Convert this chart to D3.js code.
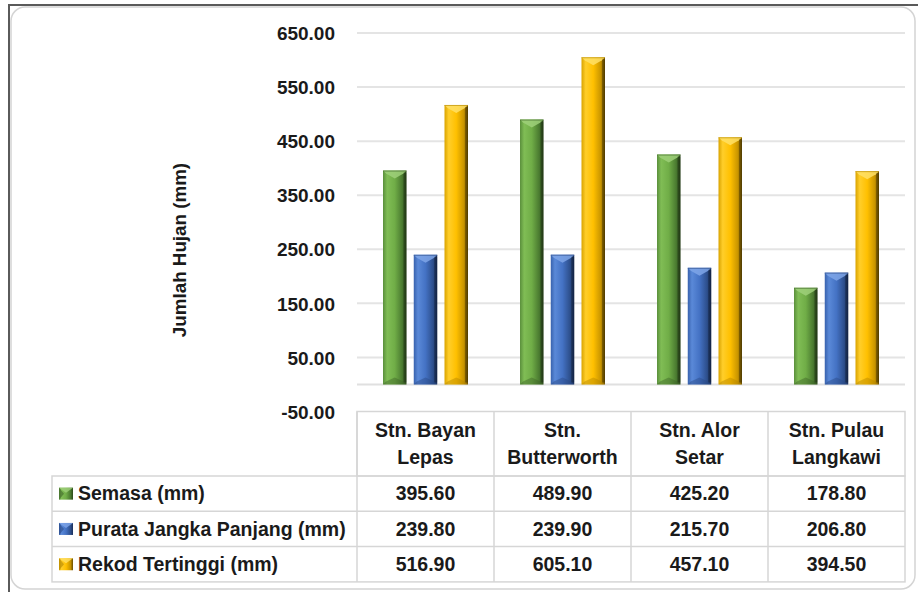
<!DOCTYPE html>
<html>
<head>
<meta charset="utf-8">
<script src="https://cdn.jsdelivr.net/npm/d3@7/dist/d3.min.js"></script>
<style>
  html, body { margin: 0; padding: 0; background: #fff; }
  svg { display: block; }
  text { font-family: "Liberation Sans", Arial, sans-serif; font-weight: bold; fill: #1a1a1a; }
</style>
</head>
<body>
<svg id="chart" width="919" height="592"></svg>
<script>
// Rainfall data per station
const stations = ["Stn. Bayan Lepas", "Stn. Butterworth", "Stn. Alor Setar", "Stn. Pulau Langkawi"];
const stationLines = [["Stn. Bayan", "Lepas"], ["Stn.", "Butterworth"], ["Stn. Alor", "Setar"], ["Stn. Pulau", "Langkawi"]];
const seriesNames = ["Semasa (mm)", "Purata Jangka Panjang (mm)", "Rekod Tertinggi (mm)"];
const semasa = [395.60, 489.90, 425.20, 178.80];
const purata = [239.80, 239.90, 215.70, 206.80];
const rekod = [516.90, 605.10, 457.10, 394.50];
const yTicks = [-50, 50, 150, 250, 350, 450, 550, 650];
const yTitle = "Jumlah Hujan (mm)";

const seriesValues = [semasa, purata, rekod];
const palette = [
  { id: "g", stops: ["#5a8f3c", "#80bd55", "#70ad47", "#4a7a30", "#2c4a1b"], light: "#9fd07a", dark: "#3d6428" },
  { id: "b", stops: ["#3862ad", "#5a89d8", "#4472c4", "#2d4f8c", "#1a2f5a"], light: "#7fa6e8", dark: "#2a4a85" },
  { id: "y", stops: ["#d9a300", "#ffce2a", "#ffc000", "#c99500", "#6a4f00"], light: "#ffe066", dark: "#b38600" }
];

// Number format with a plain hyphen for negatives
const fmt = d3.formatLocale({ decimal: ".", thousands: ",", grouping: [3], currency: ["", ""], minus: "-" }).format(".2f");

const svg = d3.select("#chart");
const defs = svg.append("defs");
palette.forEach(p => {
  const g = defs.append("linearGradient").attr("id", "grad-" + p.id)
    .attr("x1", "0%").attr("x2", "100%").attr("y1", "0%").attr("y2", "0%");
  [0, 18, 50, 82, 100].forEach((o, i) => g.append("stop").attr("offset", o + "%").attr("stop-color", p.stops[i]));
});

// Chart frame
svg.append("rect").attr("x", 11).attr("y", 7).attr("width", 904).attr("height", 582)
  .attr("rx", 14).attr("fill", "none").attr("stroke", "#d4d4d4").attr("stroke-width", 1.5);
svg.append("line").attr("x1", 8).attr("x2", 918).attr("y1", 5).attr("y2", 5)
  .attr("stroke", "#5a5a5a").attr("stroke-width", 2);
svg.append("line").attr("x1", 9).attr("x2", 9).attr("y1", 4).attr("y2", 592)
  .attr("stroke", "#5a5a5a").attr("stroke-width", 2);

// Scales
const plotLeft = 357, plotRight = 905;
const y = d3.scaleLinear().domain([-50, 650]).range([411.5, 33]);
const x0 = d3.scaleBand().domain(stations).range([plotLeft, plotRight]).padding(0);
const x1 = d3.scaleBand().domain(seriesNames).range([26, 111]).paddingInner(0.236).paddingOuter(0);

// Gridlines
svg.append("g").selectAll("line").data(yTicks.filter(t => t > -50)).join("line")
  .attr("x1", plotLeft).attr("x2", plotRight)
  .attr("y1", d => y(d)).attr("y2", d => y(d))
  .attr("stroke", "#e4e4e4").attr("stroke-width", 2);
svg.append("line").attr("x1", plotLeft).attr("x2", plotRight)
  .attr("y1", y(0)).attr("y2", y(0)).attr("stroke", "#e0e0e0").attr("stroke-width", 2);

// Y axis labels
const yAxis = d3.axisLeft(y).tickValues(yTicks).tickFormat(fmt).tickSize(0).tickPadding(0);
const ga = svg.append("g").attr("transform", "translate(335,0)").call(yAxis);
ga.select(".domain").remove();
ga.selectAll("text").style("font-size", "19px").style("font-family", "'Liberation Sans', Arial, sans-serif")
  .style("font-weight", "bold").attr("fill", "#1a1a1a").attr("dy", "0.35em");

// Y axis title
svg.append("text").attr("transform", "translate(186,250) rotate(-90)")
  .attr("text-anchor", "middle").style("font-size", "18.8px").text(yTitle);

// Bevelled bars
function drawBar(g, bx, by, w, h, p) {
  g.append("rect").attr("x", bx).attr("y", by).attr("width", w).attr("height", h)
    .attr("fill", "url(#grad-" + p.id + ")");
  const b = Math.min(7, h / 3);
  // top facet
  g.append("path").attr("d", `M${bx},${by} L${bx + w},${by} L${bx + w - 3},${by + 3} L${bx + w / 2},${by + b + 1} L${bx + 3},${by + 3} Z`)
    .attr("fill", p.light).attr("opacity", 0.85);
  g.append("line").attr("x1", bx).attr("x2", bx + w).attr("y1", by + 0.5).attr("y2", by + 0.5)
    .attr("stroke", p.dark).attr("stroke-width", 1).attr("opacity", 0.6);
  // bottom facet
  const yb = by + h;
  g.append("path").attr("d", `M${bx},${yb} L${bx + w},${yb} L${bx + w - 3},${yb - 3} L${bx + w / 2},${yb - b} L${bx + 3},${yb - 3} Z`)
    .attr("fill", p.dark).attr("opacity", 0.45);
  // side shading
  g.append("rect").attr("x", bx + w - 3).attr("y", by + 2).attr("width", 3).attr("height", Math.max(0, h - 4))
    .attr("fill", "#000").attr("opacity", 0.25);
}

const barsG = svg.append("g");
stations.forEach((st, i) => {
  seriesNames.forEach((s, j) => {
    const v = seriesValues[j][i];
    const bx = x0(st) + x1(s);
    const top = y(v), base = y(0);
    drawBar(barsG, bx, top, x1.bandwidth(), base - top, palette[j]);
  });
});

// Data table
const tableTop = y(-50), headerBottom = 476, rowH = 35.3;
const rowTops = seriesNames.map((_, i) => headerBottom + i * rowH);
const tableBottom = headerBottom + 3 * rowH;
const labelLeft = 52;
const tg = svg.append("g");
const lineColor = "#d6d6d6";
// header box
tg.append("rect").attr("x", plotLeft).attr("y", tableTop).attr("width", plotRight - plotLeft)
  .attr("height", headerBottom - tableTop).attr("fill", "none").attr("stroke", lineColor).attr("stroke-width", 1.5);
// body box
tg.append("rect").attr("x", labelLeft).attr("y", headerBottom).attr("width", plotRight - labelLeft)
  .attr("height", tableBottom - headerBottom).attr("fill", "none").attr("stroke", lineColor).attr("stroke-width", 1.5);
// row lines
rowTops.slice(1).forEach(t => tg.append("line").attr("x1", labelLeft).attr("x2", plotRight)
  .attr("y1", t).attr("y2", t).attr("stroke", lineColor).attr("stroke-width", 1.5));
// column lines
stations.forEach(st => tg.append("line").attr("x1", x0(st)).attr("x2", x0(st))
  .attr("y1", tableTop).attr("y2", tableBottom).attr("stroke", lineColor).attr("stroke-width", 1.5));

// header labels
stations.forEach((st, i) => {
  const cx = x0(st) + x0.bandwidth() / 2;
  stationLines[i].forEach((ln, k) => {
    tg.append("text").attr("x", cx).attr("y", 430 + k * 27).attr("dy", "0.35em")
      .attr("text-anchor", "middle").style("font-size", "19.5px").text(ln);
  });
});

// row labels, keys and values
seriesNames.forEach((s, j) => {
  const cy = rowTops[j] + rowH / 2;
  const p = palette[j];
  const kx = 59, ky = cy - 6, kw = 14, kh = 12;
  tg.append("rect").attr("x", kx).attr("y", ky).attr("width", kw).attr("height", kh).attr("fill", "url(#grad-" + p.id + ")");
  tg.append("path").attr("d", `M${kx},${ky} L${kx + kw},${ky} L${kx + kw / 2},${ky + 5} Z`).attr("fill", p.light).attr("opacity", 0.8);
  tg.append("path").attr("d", `M${kx},${ky + kh} L${kx},${ky} L${kx + 5},${ky + kh / 2} Z`).attr("fill", p.dark).attr("opacity", 0.6);
  tg.append("text").attr("x", 78).attr("y", cy).attr("dy", "0.35em")
    .style("font-size", "19.5px").text(s);
  stations.forEach((st, i) => {
    tg.append("text").attr("x", x0(st) + x0.bandwidth() / 2).attr("y", cy).attr("dy", "0.35em")
      .attr("text-anchor", "middle").style("font-size", "19.5px")
      .text(fmt(seriesValues[j][i]));
  });
});
</script>
</body>
</html>
